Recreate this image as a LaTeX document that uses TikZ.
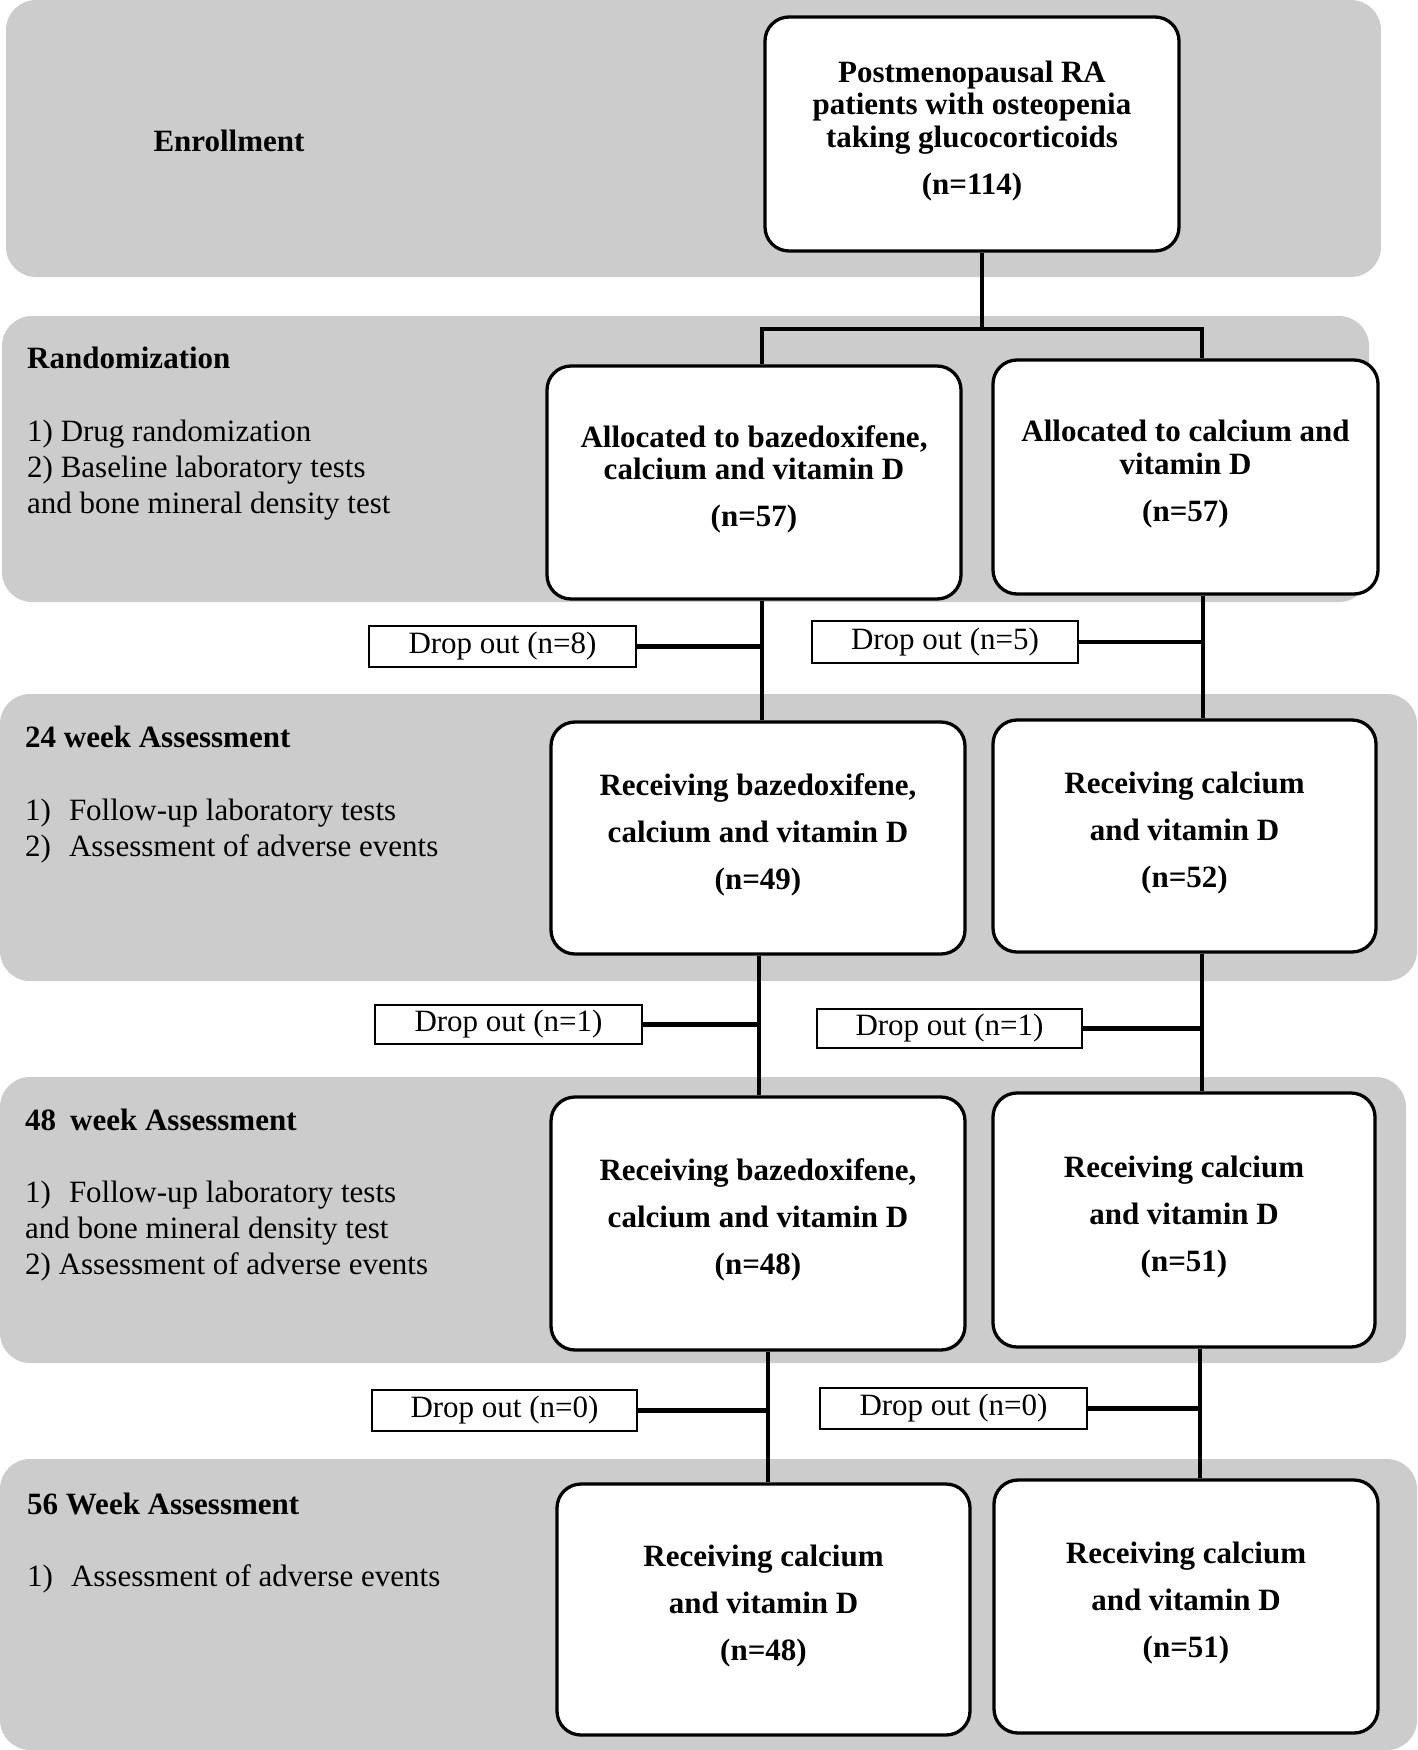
\documentclass[tikz,border=0pt]{standalone}
\usepackage{fontspec}
\setmainfont{Liberation Serif}
\definecolor{panelgray}{RGB}{204,204,204}
\newcommand\boxend{\rule[-13pt]{0pt}{13pt}}
\begin{document}
\begin{tikzpicture}[x=1pt,y=-1pt,
  panel/.style={fill=panelgray, rounded corners=30pt},
  flowbox/.style={draw, line width=3.3pt, fill=white, rounded corners=24pt, align=center,
    inner sep=0pt, font=\bfseries\fontsize{31}{32.5}\selectfont},
  dropbox/.style={draw, line width=2pt, fill=white, inner sep=0pt,
    minimum height=40pt, font=\fontsize{31}{36}\selectfont},
  conn/.style={line width=3.5pt},
  dconn/.style={line width=4.5pt},
  headtxt/.style={anchor=west, inner sep=0pt, font=\bfseries\fontsize{31}{36}\selectfont},
  listtxt/.style={anchor=west, inner sep=0pt, align=left, font=\fontsize{31}{36}\selectfont}]
\useasboundingbox (0,0) rectangle (1418,1750);
% panels
\path[panel] (6,0) rectangle (1381,277);
\path[panel] (2,316) rectangle (1369,602);
\path[panel] (0,694) rectangle (1417,981);
\path[panel] (0,1077) rectangle (1406,1363);
\path[panel] (0,1459) rectangle (1417,1750);
% left texts
\node[headtxt, anchor=center] (enr) at (229,141) {Enrollment};
\node[headtxt] (h2) at (27,358) {Randomization};
\node[listtxt] (l2) at (27,470) {1) Drug randomization\\2) Baseline laboratory tests\\and bone mineral density test};
\node[headtxt] (h3) at (25,737) {24 week Assessment};
\node[listtxt] (l3) at (25,831) {1)\hspace{18pt}Follow-up laboratory tests\\2)\hspace{18pt}Assessment of adverse events};
\node[headtxt] (h4) at (25,1120) {48\hspace{14pt}week Assessment};
\node[listtxt] (l4) at (25,1231.5) {1)\hspace{18pt}Follow-up laboratory tests\\and bone mineral density test\\2) Assessment of adverse events};
\node[headtxt] (h5) at (27,1504) {56 Week Assessment};
\node[listtxt] (l5) at (27,1579) {1)\hspace{18pt}Assessment of adverse events};
% boxes
\node[flowbox, minimum width=414pt, minimum height=234pt] (top) at (972,134)
  {Postmenopausal RA\\patients with osteopenia\\taking glucocorticoids\\[14.5pt](n=114)\boxend};
\node[flowbox, minimum width=414pt, minimum height=233pt] (rl) at (754,482.5)
  {Allocated to bazedoxifene,\\calcium and vitamin D\\[14.5pt](n=57)\boxend};
\node[flowbox, minimum width=385pt, minimum height=234pt] (rr) at (1185.5,477)
  {Allocated to calcium and\\vitamin D\\[14.5pt](n=57)\boxend};
\node[flowbox, minimum width=414pt, minimum height=232pt] (wl) at (758,838)
  {Receiving bazedoxifene,\\[14.5pt]calcium and vitamin D\\[14.5pt](n=49)\boxend};
\node[flowbox, minimum width=383pt, minimum height=232pt] (wr) at (1184.5,836)
  {Receiving calcium\\[14.5pt]and vitamin D\\[14.5pt](n=52)\boxend};
\node[flowbox, minimum width=414pt, minimum height=253pt] (fl) at (758,1223.5)
  {Receiving bazedoxifene,\\[14.5pt]calcium and vitamin D\\[14.5pt](n=48)\boxend};
\node[flowbox, minimum width=382pt, minimum height=254pt] (fr) at (1184,1220)
  {Receiving calcium\\[14.5pt]and vitamin D\\[14.5pt](n=51)\boxend};
\node[flowbox, minimum width=413pt, minimum height=251pt] (sl) at (763.5,1609.5)
  {Receiving calcium\\[14.5pt]and vitamin D\\[14.5pt](n=48)\boxend};
\node[flowbox, minimum width=384pt, minimum height=253pt] (sr) at (1186,1606.5)
  {Receiving calcium\\[14.5pt]and vitamin D\\[14.5pt](n=51)\boxend};
% drop-out boxes
\node[dropbox, minimum width=267pt, minimum height=41pt] (d1) at (502.5,646.5) {Drop out (n=8)};
\node[dropbox, minimum width=266pt, minimum height=42pt] (d2) at (945,642) {Drop out (n=5)};
\node[dropbox, minimum width=267pt, minimum height=39pt] (d3) at (508.5,1024.5) {Drop out (n=1)};
\node[dropbox, minimum width=265pt, minimum height=39pt] (d4) at (949.5,1028.5) {Drop out (n=1)};
\node[dropbox, minimum width=265pt, minimum height=41pt] (d5) at (504.5,1410.5) {Drop out (n=0)};
\node[dropbox, minimum width=267pt, minimum height=41pt] (d6) at (953.5,1408.5) {Drop out (n=0)};
% line positions
\coordinate (tj) at (982,329);
\coordinate (bl) at (762,329);
\coordinate (br) at (1202,329);
\coordinate (la) at (762,0);
\coordinate (ra) at (1203,0);
\coordinate (lb) at (759,0);
\coordinate (rb) at (1202,0);
\coordinate (lc) at (768,0);
\coordinate (rc) at (1200,0);
% connectors
\draw[conn] (top.south -| tj) -- (tj);
\draw[conn] (rl.north -| bl) -- (bl) -- (br) -- (rr.north -| br);
\draw[conn] (rl.south -| la) -- (wl.north -| la);
\draw[conn] (rr.south -| ra) -- (wr.north -| ra);
\draw[conn] (wl.south -| lb) -- (fl.north -| lb);
\draw[conn] (wr.south -| rb) -- (fr.north -| rb);
\draw[conn] (fl.south -| lc) -- (sl.north -| lc);
\draw[conn] (fr.south -| rc) -- (sr.north -| rc);
\draw[dconn] (d1.east) -- (d1.east -| la);
\draw[dconn] (d2.east) -- (d2.east -| ra);
\draw[dconn] (d3.east) -- (d3.east -| lb);
\draw[dconn] (d4.east) -- (d4.east -| rb);
\draw[dconn] (d5.east) -- (d5.east -| lc);
\draw[dconn] (d6.east) -- (d6.east -| rc);
\end{tikzpicture}
\end{document}
